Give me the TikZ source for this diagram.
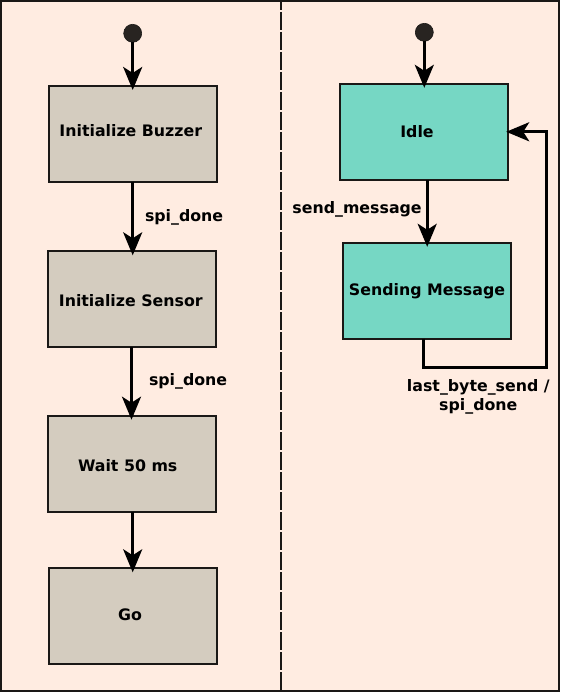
\documentclass[tikz,border=0pt]{standalone}
\usepackage{fontspec}
\setmainfont{DejaVu Sans}
\usetikzlibrary{arrows.meta}
\definecolor{bgpeach}{RGB}{255,236,225}
\definecolor{boxgray}{RGB}{212,204,191}
\definecolor{boxteal}{RGB}{118,215,196}
\definecolor{inkdark}{RGB}{26,24,22}
\definecolor{dotdark}{RGB}{40,36,33}
\begin{document}
\begin{tikzpicture}[x=1pt,y=-1pt,
  every node/.style={font=\fontsize{15.8}{18.3}\selectfont\bfseries, inner sep=0pt, outer sep=0pt, text=black},
  statebox/.style={draw=inkdark, line width=2pt, rectangle, minimum width=168pt, minimum height=96pt},
  graybox/.style={statebox, fill=boxgray},
  tealbox/.style={statebox, fill=boxteal},
  startdot/.style={circle, fill=dotdark, draw=inkdark, line width=0.6pt, minimum size=18pt},
  conn/.style={draw=black, line width=3pt, -{Stealth[length=23pt,width=19pt,inset=6pt]}},
  boxtext/.style={anchor=base},
  lbl/.style={}
]
\useasboundingbox (0,0) rectangle (560,692);
\fill[bgpeach] (0,0) rectangle (560,692);
\draw[inkdark, line width=2pt] (1,1) rectangle (559,691);
\draw[inkdark, line width=2pt, dash pattern=on 18pt off 2pt, dash phase=8pt] (280.5,0) -- (280.5,692);

% left column
\node[startdot] (s1) at (132.7,33.3) {};
\node[graybox] (buz) at (133.3,134) {};
\node[graybox] (sen) at (131.5,299.3) {};
\node[graybox] (wait) at (132,463.7) {};
\node[graybox] (go) at (133,616.3) {};
\node[boxtext] (tbuz) at (130.8,136.7) {Initialize Buzzer};
\node[boxtext] (tsen) at (130.8,306.7) {Initialize Sensor};
\node[boxtext] (twait) at (127.7,471.7) {Wait 50 ms};
\node[boxtext] (tgo) at (130,620.7) {Go};

\draw[conn, shorten >=-4pt] (s1) -- (s1 |- buz.north);
\draw[conn, shorten >=-4pt] (buz.south -| s1) -- (s1 |- sen.north);
\draw[conn, shorten >=-4pt] (sen.south) -- (sen.south |- wait.north);
\draw[conn, shorten >=-4pt] (wait.south -| s1) -- (s1 |- go.north);
\node[lbl, anchor=base west] (l1) at (145,221.7) {spi\_done};
\node[lbl, anchor=base west] (l2) at (149,385) {spi\_done};

% right column
\node[startdot] (s2) at (424.3,32.3) {};
\node[tealbox] (idle) at (424.2,131.8) {};
\node[tealbox] (send) at (427.2,290.8) {};
\node[boxtext] (tidle) at (417,137.7) {Idle};
\node[boxtext] (tsend) at (427,295) {Sending Message};

\draw[conn, shorten >=-4pt] (s2) -- (s2 |- idle.north);
\draw[conn, shorten >=-4pt] (send.north |- idle.south) -- (send.north);
\node[lbl, anchor=base east] (l3) at (421.7,214) {send\_message};

\coordinate (c1) at (423.3,367.7);
\coordinate (c2) at (546,367.7);
\draw[conn, shorten >=-2pt] (send.south -| c1) -- (c1) -- (c2) -- (c2 |- idle.east) -- (idle.east);
\node[lbl, anchor=north, align=center] (l4) at (478.3,379.7) {last\_byte\_send /\\spi\_done};
\end{tikzpicture}
\end{document}
